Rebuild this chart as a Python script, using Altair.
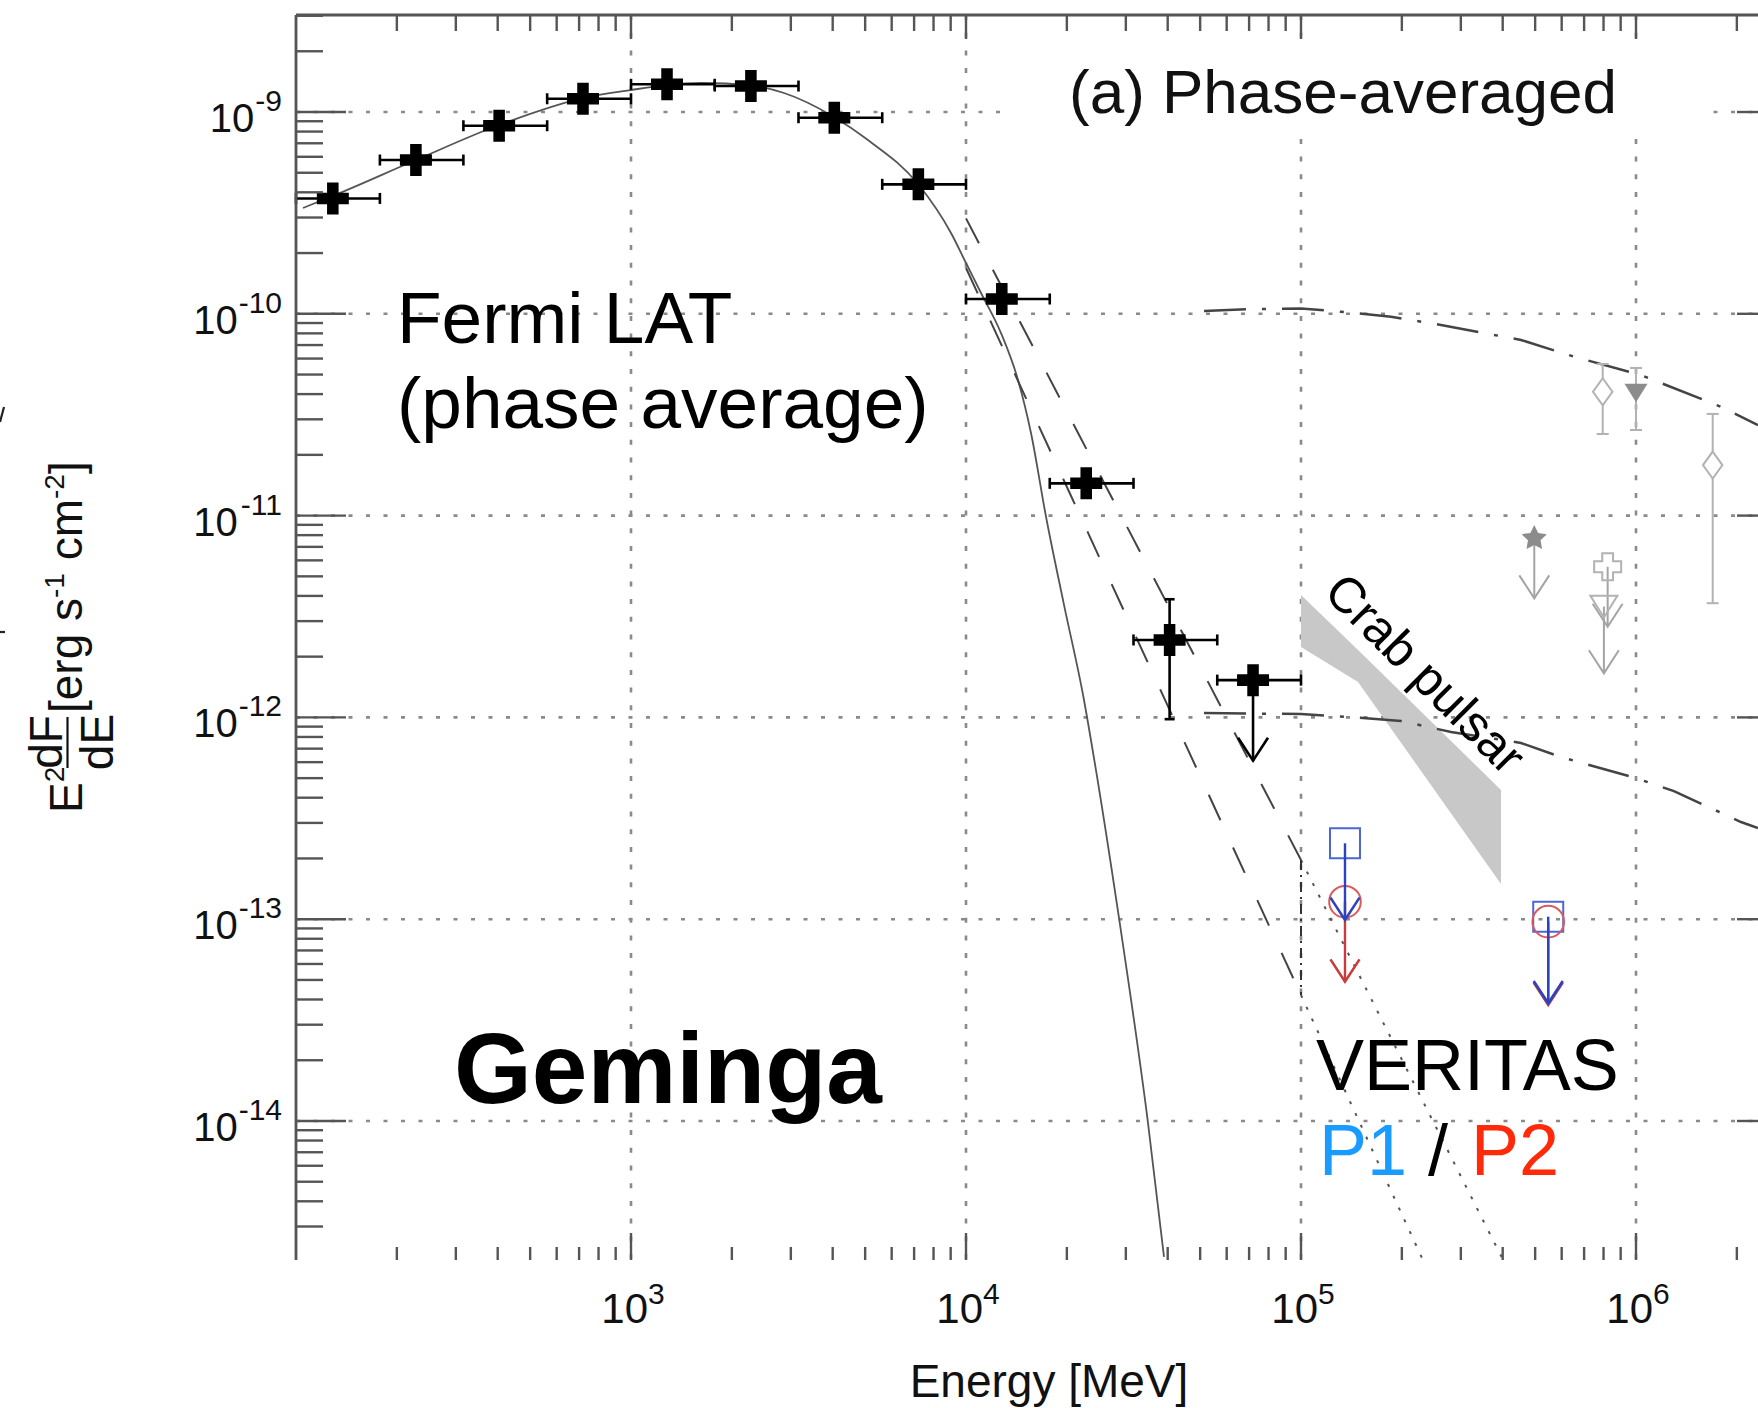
import altair as alt
import pandas as pd

FONT = "Liberation Sans"

# plot area size and its offset inside the page (pixels)
W, H = 1462, 1245
PAD = {"left": 296, "top": 15, "right": 0, "bottom": 148}

# axis ranges
E_RANGE = [100.0, 2.313e6]        # MeV
F_RANGE = [2.047e-15, 3.025e-9]   # erg s^-1 cm^-2

# ---------------- Fermi LAT, phase averaged ----------------
lat_e = [128.8, 228.0, 404.0, 719.0, 1281.0, 2280.0, 4045.0, 7208.0, 12790.0, 22850.0, 40530.0]
lat_lo = [100, 178, 316, 562, 1000, 1778, 3162, 5623, 10000, 17783, 31623]
lat_hi = [178, 316, 562, 1000, 1778, 3162, 5623, 10000, 17783, 31623, 56234]
lat_f = [3.73e-10, 5.78e-10, 8.55e-10, 1.163e-9, 1.372e-9, 1.345e-9, 9.37e-10,
         4.38e-10, 1.184e-10, 1.445e-11, 2.42e-12]
lat_yerr_e = [40530.0]
lat_yerr_lo = [9.8e-13]
lat_yerr_hi = [3.85e-12]
lat_ul_e = [71920.0]
lat_ul_lo = [56234]
lat_ul_hi = [100000]
lat_ul_f = [1.53e-12]
lat_ul_tip = [6.1e-13]

# fitted power law with exponential cut-off
fit_e = [104.9, 128.7, 228.1, 403.6, 719.1, 1000, 1281, 1618, 2281, 2862, 4036, 5099,
         7190, 9021, 10000, 11087, 12719, 14297, 15632, 17338, 19613, 22500, 24100,
         28620, 34940, 39000]
fit_f = [3.344e-10, 3.835e-10, 5.783e-10, 8.62e-10, 1.173e-9, 1.285e-9, 1.360e-9,
         1.392e-9, 1.353e-9, 1.242e-9, 9.45e-10, 7.26e-10, 4.395e-10, 2.514e-10,
         1.785e-10, 1.268e-10, 8.03e-11, 4.70e-11, 2.566e-11, 9.84e-12, 3.61e-12,
         1.22e-12, 6.29e-13, 1.014e-13, 9.77e-15, 2.12e-15]

# broken power-law extrapolations above 10 GeV
pl_hi_e = [10000, 100000]
pl_hi_f = [2.97e-10, 1.965e-13]
pl_hi_ext_e = [100000, 401000]
pl_hi_ext_f = [1.965e-13, 2.05e-15]
pl_lo_e = [10000, 100000]
pl_lo_f = [1.686e-10, 4.21e-14]
pl_lo_ext_e = [100000, 231000]
pl_lo_ext_f = [4.21e-14, 2.05e-15]

# dash-dot spectra
dd_a_e = [51340, 70920, 100000, 131600, 185700, 261800, 453700, 653000, 1035000, 1794000, 2313000]
dd_a_f = [1.032e-10, 1.056e-10, 1.062e-10, 1.024e-10, 9.67e-11, 8.80e-11, 7.42e-11,
          6.13e-11, 4.97e-11, 3.46e-11, 2.81e-11]
dd_b_e = [51340, 100000, 138100, 198800, 280400, 453700, 597200, 986000, 1298000, 2058000, 2313000]
dd_b_f = [1.051e-12, 1.039e-12, 1.005e-12, 9.60e-13, 8.47e-13, 7.47e-13, 6.36e-13,
          5.04e-13, 4.31e-13, 3.03e-13, 2.83e-13]

# Crab pulsar band
crab_e = [1.0e5, 1.48e5, 3.954e5]
crab_hi = [4.04e-12, 2.16e-12, 4.37e-13]
crab_lo = [2.233e-12, 1.498e-12, 1.494e-13]

# VERITAS upper limits
ver_e = [1.353e5, 5.47e5]
p1_f = [2.377e-13, 1.029e-13]
p1_tip = [9.91e-14, 3.83e-14]
p2_f = [1.221e-13, 9.72e-14]
p2_tip = [4.90e-14, 3.76e-14]

# other instruments (grey)
dia_e = [7.955e5, 1.694e6]
dia_f = [4.11e-11, 1.78e-11]
dia_lo = [2.537e-11, 3.68e-12]
dia_hi = [5.64e-11, 3.19e-11]
tri_e = [1.0e6]
tri_f = [4.05e-11]
tri_lo = [2.655e-11]
tri_hi = [5.39e-11]
star_e = [4.97e5]
star_f = [7.72e-12]
star_tip = [3.89e-12]
plus_e = [8.23e5]
plus_f = [5.58e-12]
plus_tip = [2.815e-12]
otri_e = [8.02e5]
otri_f = [3.54e-12]
otri_tip = [1.654e-12]

# axis ticks
grid_e = [1e3, 1e4, 1e5, 1e6]
grid_f = [1e-9, 1e-10, 1e-11, 1e-12, 1e-13, 1e-14]
x_exp = ["3", "4", "5", "6"]
y_exp = ["-9", "-10", "-11", "-12", "-13", "-14"]
minor_e = [m * 10.0 ** k for k in range(2, 7) for m in range(2, 10)]
minor_e = [v for v in minor_e if E_RANGE[0] < v < E_RANGE[1]]
minor_f = [m * 10.0 ** k for k in range(-15, -8) for m in range(2, 10)]
minor_f = [v for v in minor_f if F_RANGE[0] * 0.999 < v < F_RANGE[1]]

# ---------------------------------------------------------------
xs = alt.Scale(type="log", domain=E_RANGE, nice=False)
ys = alt.Scale(type="log", domain=F_RANGE, nice=False)


def X(f):
    return alt.X(f"{f}:Q", scale=xs, axis=None)


def Y(f):
    return alt.Y(f"{f}:Q", scale=ys, axis=None)


def D(**cols):
    return pd.DataFrame(cols)


ONE = pd.DataFrame({"k": [0]})

PLUS = ("M-1,-0.36L-0.36,-0.36L-0.36,-1L0.36,-1L0.36,-0.36L1,-0.36L1,0.36"
        "L0.36,0.36L0.36,1L-0.36,1L-0.36,0.36L-1,0.36Z")
VHEAD = "M-0.65,-1L0,0L0.65,-1"
VBAR = "M0,-1L0,1"
HBAR = "M-1,0L1,0"
DIAMOND = "M0,-1L0.72,0L0,1L-0.72,0Z"
TRI_DOWN = "M-1,-0.8L1,-0.8L0,0.8Z"
STAR = ("M0,-1L0.294,-0.405L0.951,-0.309L0.476,0.155L0.588,0.809L0,0.5"
        "L-0.588,0.809L-0.476,0.155L-0.951,-0.309L-0.294,-0.405Z")

GRID = "#8a8a8a"
AX = "#555555"

layers = []

# grid
layers.append(alt.Chart(D(F=grid_f)).mark_rule(color=GRID, strokeWidth=2.6, strokeDash=[4, 13.5])
              .encode(y=Y("F"), x=alt.value(0), x2=alt.value(W)))
layers.append(alt.Chart(D(E=grid_e)).mark_rule(color=GRID, strokeWidth=2.6, strokeDash=[5, 12.7])
              .encode(x=X("E"), y=alt.value(0), y2=alt.value(H)))
# blank panel behind the panel label
layers.append(alt.Chart(ONE).mark_rect(color="white")
              .encode(x=alt.value(708), x2=alt.value(1404), y=alt.value(25), y2=alt.value(123)))

# Crab pulsar band
layers.append(alt.Chart(D(E=crab_e, hi=crab_hi, lo=crab_lo)).mark_area(color="#c8c8c8", opacity=1)
              .encode(x=X("E"), y=Y("hi"), y2=alt.Y2("lo:Q")))

# model curves
layers.append(alt.Chart(D(E=fit_e, F=fit_f))
              .mark_line(color="#555555", strokeWidth=1.8, clip=True, interpolate="monotone")
              .encode(x=X("E"), y=Y("F")))
for e, f in [(pl_hi_e, pl_hi_f), (pl_lo_e, pl_lo_f)]:
    layers.append(alt.Chart(D(E=e, F=f)).mark_line(color="#444444", strokeWidth=2, strokeDash=[28, 30], clip=True)
                  .encode(x=X("E"), y=Y("F")))
for e, f in [(pl_hi_ext_e, pl_hi_ext_f), (pl_lo_ext_e, pl_lo_ext_f)]:
    layers.append(alt.Chart(D(E=e, F=f)).mark_line(color="#555555", strokeWidth=2, strokeDash=[3, 10], clip=True)
                  .encode(x=X("E"), y=Y("F")))
layers.append(alt.Chart(D(E=[1e5], hi=[pl_hi_f[1]], lo=[pl_lo_f[1]]))
              .mark_rule(color="#333333", strokeWidth=2, strokeDash=[10, 5, 2, 5])
              .encode(x=X("E"), y=Y("hi"), y2=alt.Y2("lo:Q")))
for e, f in [(dd_a_e, dd_a_f), (dd_b_e, dd_b_f)]:
    layers.append(alt.Chart(D(E=e, F=f)).mark_line(color="#444444", strokeWidth=2.5, strokeDash=[42, 16, 4, 16], clip=True)
                  .encode(x=X("E"), y=Y("F")))

# grey points from other instruments
LG, MG = "#b2b2b2", "#8c8c8c"
err = D(E=dia_e + tri_e, lo=dia_lo + tri_lo, hi=dia_hi + tri_hi)
layers.append(alt.Chart(err).mark_rule(color=LG, strokeWidth=2).encode(x=X("E"), y=Y("lo"), y2=alt.Y2("hi:Q")))
caps = D(E=dia_e * 2 + tri_e * 2, F=dia_lo + dia_hi + tri_lo + tri_hi)
layers.append(alt.Chart(caps).mark_point(shape=HBAR, size=144, color=LG, strokeWidth=2, opacity=1)
              .encode(x=X("E"), y=Y("F")))
layers.append(alt.Chart(D(E=dia_e, F=dia_f)).mark_point(shape=DIAMOND, size=729, color=LG, fill="white", filled=False, strokeWidth=2, opacity=1)
              .encode(x=X("E"), y=Y("F")))
layers.append(alt.Chart(D(E=tri_e, F=tri_f)).mark_point(shape=TRI_DOWN, size=529, color=MG, filled=True, opacity=1)
              .encode(x=X("E"), y=Y("F")))
ul = D(E=star_e + plus_e + otri_e, F=star_f + plus_f + otri_f, tip=star_tip + plus_tip + otri_tip)
layers.append(alt.Chart(ul).mark_rule(color="#a4a4a4", strokeWidth=2).encode(x=X("E"), y=Y("F"), y2=alt.Y2("tip:Q")))
layers.append(alt.Chart(ul).mark_point(shape=VHEAD, size=2116, color="#a4a4a4", filled=False, strokeWidth=2, opacity=1)
              .encode(x=X("E"), y=Y("tip")))
layers.append(alt.Chart(D(E=star_e, F=star_f)).mark_point(shape=STAR, size=700, color=MG, filled=True, opacity=1)
              .encode(x=X("E"), y=Y("F")))
layers.append(alt.Chart(D(E=plus_e, F=plus_f)).mark_point(shape="cross", size=729, color=LG, filled=False, strokeWidth=2, opacity=1)
              .encode(x=X("E"), y=Y("F")))
layers.append(alt.Chart(D(E=otri_e, F=otri_f)).mark_point(shape=TRI_DOWN, size=729, color=LG, filled=False, strokeWidth=2, opacity=1)
              .encode(x=X("E"), y=Y("F")))

# VERITAS P1 / P2 upper limits
RED, RED_L = "#c83c3c", "#d85a5a"
BLUE, BLUE_L = "#2a44c0", "#4c66d4"
p2 = D(E=ver_e, F=p2_f, tip=p2_tip)
p1 = D(E=ver_e, F=p1_f, tip=p1_tip)
layers.append(alt.Chart(p1).mark_point(shape="square", size=900, color=BLUE_L, filled=False, strokeWidth=2, opacity=1)
              .encode(x=X("E"), y=Y("F")))
layers.append(alt.Chart(p2).mark_point(shape="circle", size=1000, color=RED_L, filled=False, strokeWidth=2, opacity=1)
              .encode(x=X("E"), y=Y("F")))
for d, c in [(p2, RED), (p1, BLUE)]:
    layers.append(alt.Chart(d).mark_rule(color=c, strokeWidth=2.4).encode(x=X("E"), y=Y("F"), y2=alt.Y2("tip:Q")))
    layers.append(alt.Chart(d).mark_point(shape=VHEAD, size=2000, color=c, filled=False, strokeWidth=2.6, opacity=1)
                  .encode(x=X("E"), y=Y("tip")))

# Fermi LAT points
lat = D(E=lat_e, F=lat_f, lo=lat_lo, hi=lat_hi)
lat_ul = D(E=lat_ul_e, F=lat_ul_f, lo=lat_ul_lo, hi=lat_ul_hi, tip=lat_ul_tip)
for d in (lat, lat_ul):
    layers.append(alt.Chart(d).mark_rule(color="black", strokeWidth=2.6).encode(x=X("lo"), x2=alt.X2("hi:Q"), y=Y("F")))
    layers.append(alt.Chart(d).mark_point(shape=VBAR, size=121, color="black", strokeWidth=2.6, opacity=1)
                  .encode(x=X("lo"), y=Y("F")))
    layers.append(alt.Chart(d).mark_point(shape=VBAR, size=121, color="black", strokeWidth=2.6, opacity=1)
                  .encode(x=X("hi"), y=Y("F")))
yerr = D(E=lat_yerr_e, lo=lat_yerr_lo, hi=lat_yerr_hi)
layers.append(alt.Chart(yerr).mark_rule(color="black", strokeWidth=2.6).encode(x=X("E"), y=Y("lo"), y2=alt.Y2("hi:Q")))
layers.append(alt.Chart(D(E=lat_yerr_e * 2, F=lat_yerr_lo + lat_yerr_hi))
              .mark_point(shape=HBAR, size=100, color="black", strokeWidth=2.6, opacity=1).encode(x=X("E"), y=Y("F")))
layers.append(alt.Chart(lat_ul).mark_rule(color="black", strokeWidth=2.6).encode(x=X("E"), y=Y("F"), y2=alt.Y2("tip:Q")))
layers.append(alt.Chart(lat_ul).mark_point(shape=VHEAD, size=2116, color="black", filled=False, strokeWidth=2.6, opacity=1)
              .encode(x=X("E"), y=Y("tip")))
layers.append(alt.Chart(D(E=lat_e + lat_ul_e, F=lat_f + lat_ul_f))
              .mark_point(shape=PLUS, size=1024, color="black", filled=True, opacity=1).encode(x=X("E"), y=Y("F")))

# ticks and frame
def hrule(df, x0, x1, w=2.4):
    return alt.Chart(df).mark_rule(color=AX, strokeWidth=w).encode(y=Y("F"), x=alt.value(x0), x2=alt.value(x1))


def vrule(df, y0, y1, w=2.4):
    return alt.Chart(df).mark_rule(color=AX, strokeWidth=w).encode(x=X("E"), y=alt.value(y0), y2=alt.value(y1))


def seg(x0, y0, x1, y1, color="black", w=2):
    return alt.Chart(ONE).mark_rule(color=color, strokeWidth=w).encode(
        x=alt.value(x0), y=alt.value(y0), x2=alt.value(x1), y2=alt.value(y1))


layers += [
    hrule(D(F=minor_f), 0, 27), hrule(D(F=grid_f), 0, 50), hrule(D(F=grid_f), W - 21, W),
    vrule(D(E=minor_e), H, H - 13), vrule(D(E=grid_e), H, H - 27),
    vrule(D(E=minor_e), 0, 16), vrule(D(E=grid_e), 0, 24),
    alt.Chart(ONE).mark_rule(color=AX, strokeWidth=2.8).encode(x=alt.value(0), y=alt.value(0), y2=alt.value(H)),
    alt.Chart(ONE).mark_rule(color=AX, strokeWidth=3).encode(y=alt.value(0), x=alt.value(0), x2=alt.value(W)),
    # fragments of the neighbouring panel at the left edge
    seg(-296, 407, -292, 392, color="#222222", w=2.2),
    seg(-296, 617, -291, 617, color="#222222", w=2.2),
]

# tick labels
ADV = {'[': .278, ']': .278, 'e': .556, 'r': .333, 'g': .556, ' ': .278, 's': .5, 'c': .5,
       'm': .833, '-': .333, '1': .556, '2': .556, '0': .556, '3': .556, '4': .556,
       '9': .556, 'E': .667, 'd': .556, 'F': .611}


def tw(s, size):
    return sum(ADV[c] for c in s) * size


TXT = "#111111"
ylab = D(F=grid_f, exp=y_exp)
layers.append(alt.Chart(ylab).mark_text(font=FONT, fontSize=30, align="right", baseline="alphabetic", dy=-1, color=TXT)
              .encode(y=Y("F"), x=alt.value(-14), text="exp:N"))
for n in (2, 3):
    sub = ylab[ylab["exp"].str.len() == n]
    layers.append(alt.Chart(sub).mark_text(font=FONT, fontSize=40, align="right", baseline="alphabetic", dy=20, color=TXT)
                  .encode(y=Y("F"), x=alt.value(-14 - tw(sub["exp"].iloc[0], 30) - 1), text=alt.value("10")))
xlab = D(E=grid_e, exp=x_exp)
layers.append(alt.Chart(xlab).mark_text(font=FONT, fontSize=42, align="right", baseline="alphabetic", dx=17, color=TXT)
              .encode(x=X("E"), y=alt.value(1308), text=alt.value("10")))
layers.append(alt.Chart(xlab).mark_text(font=FONT, fontSize=30, align="left", baseline="alphabetic", dx=17, color=TXT)
              .encode(x=X("E"), y=alt.value(1289), text="exp:N"))


def label(txt, x, y, size, color="black", weight="normal", align="left", baseline="alphabetic", angle=0):
    kw = dict(font=FONT, fontSize=size, color=color, fontWeight=weight, align=align, baseline=baseline)
    if angle:
        kw["angle"] = angle
    return alt.Chart(ONE).mark_text(**kw).encode(x=alt.value(x), y=alt.value(y), text=alt.value(txt))


# axis titles
layers.append(label("Energy [MeV]", 753, 1382, 46, color=TXT, align="center"))
ty = 798
layers.append(label("E", -214, ty, 46, color=TXT, angle=270))
ty -= tw("E", 46)
layers.append(label("2", -232, ty, 28, color=TXT, angle=270))
layers.append(label("dF", -234, 727, 46, color=TXT, align="center", angle=270))
layers.append(label("dE", -183, 727, 46, color=TXT, align="center", angle=270))
layers.append(alt.Chart(ONE).mark_rule(color=TXT, strokeWidth=2.2)
              .encode(x=alt.value(-228.5), y=alt.value(702), y2=alt.value(753)))
ty = 698
for txt, size, lift, gap in [("[erg s", 46, 0, 0), ("-1", 28, 18, 0), ("cm", 46, 0, 0.278 * 46),
                             ("-2", 28, 18, 0), ("]", 46, 0, 0)]:
    ty -= gap
    layers.append(label(txt, -214 - lift, ty, size, color=TXT, angle=270))
    ty -= tw(txt, size)

# annotations
layers += [
    label("Fermi LAT", 101, 328, 73),
    label("(phase average)", 101, 413, 73),
    label("(a) Phase-averaged", 773, 98, 62, color=TXT),
    label("Geminga", 158, 1088, 100, weight="bold"),
    label("VERITAS", 1020, 1075, 72),
    label("P1", 1023, 1160, 72, color="#1a9bff"),
    label("/", 1132, 1160, 72),
    label("P2", 1175, 1160, 72, color="#ff2a0a"),
    label("Crab pulsar", 1128, 660, 50, align="center", baseline="middle", angle=45),
]

chart = alt.layer(*layers).properties(
    width=W, height=H, padding=PAD,
    autosize=alt.AutoSizeParams(type="none"),
    background="white",
).configure_view(stroke=None)

chart.save("out.html", embed_options={"renderer": "svg", "actions": False})
